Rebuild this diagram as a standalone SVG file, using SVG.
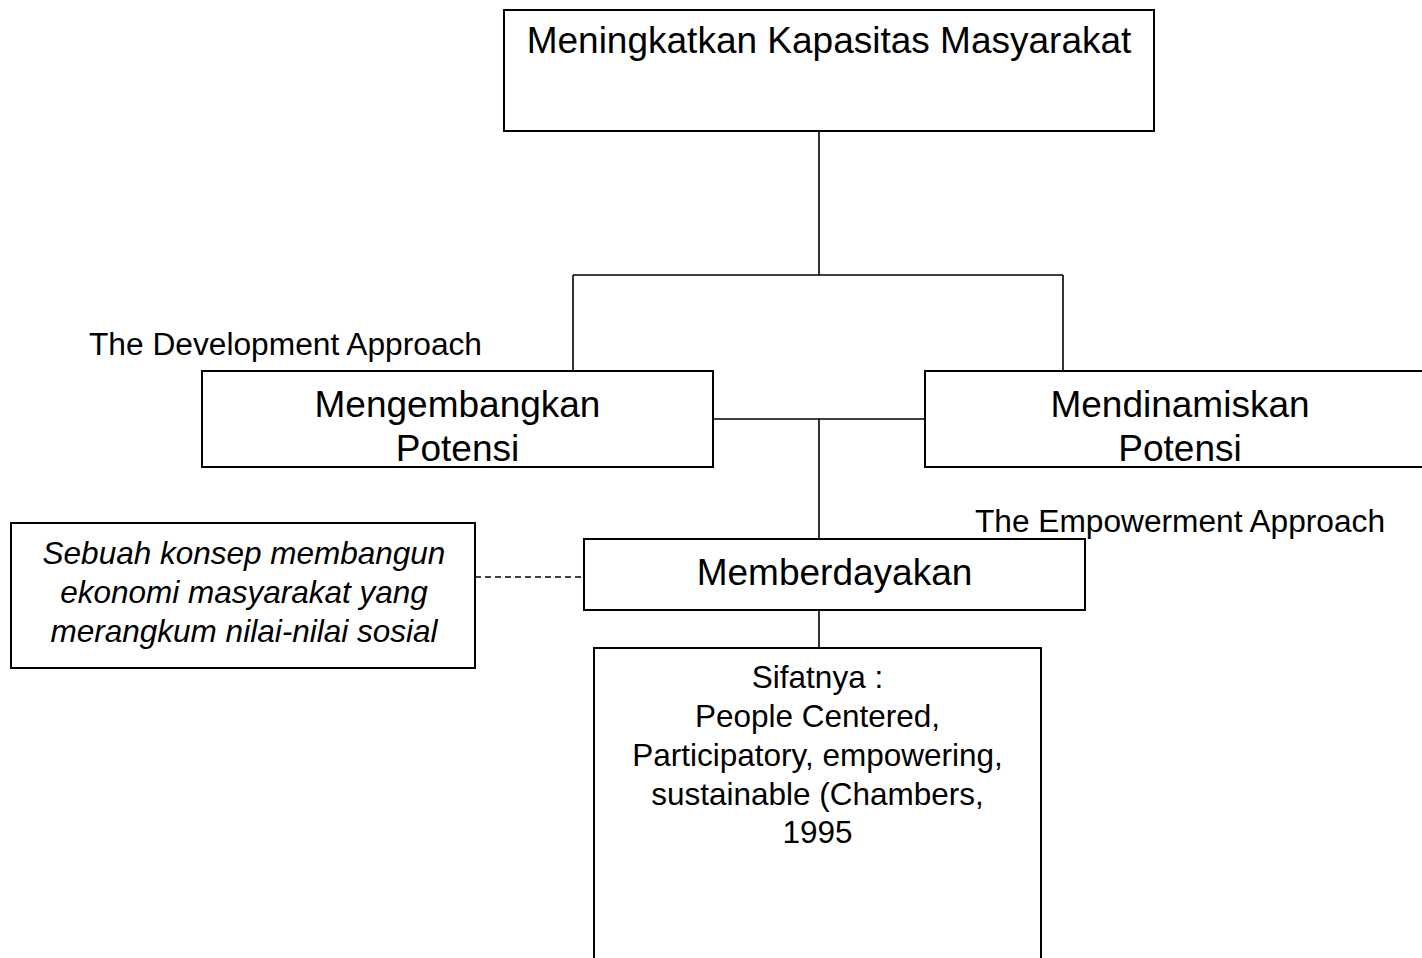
<svg xmlns="http://www.w3.org/2000/svg" width="1422" height="958" viewBox="0 0 1422 958">
<style>
.box{fill:#fff;stroke:#000;stroke-width:2}
.ln{fill:none;stroke:#000;stroke-width:1.6}
.dash{fill:none;stroke:#000;stroke-width:1.4;stroke-dasharray:6 4}
.big{font-family:"Liberation Sans",Arial,sans-serif;font-size:37px;fill:#000;text-anchor:middle}
.sm{font-family:"Liberation Sans",Arial,sans-serif;font-size:31.5px;fill:#000;text-anchor:middle}
.lbl{font-family:"Liberation Sans",Arial,sans-serif;font-size:31px;fill:#000}
.it{font-style:italic}
</style>
<rect width="1422" height="958" fill="#fff"/>
<g id="connectors">
<line class="ln" x1="819" y1="131" x2="819" y2="275"/>
<line class="ln" x1="573" y1="275" x2="1063" y2="275"/>
<line class="ln" x1="573" y1="275" x2="573" y2="371"/>
<line class="ln" x1="1063" y1="275" x2="1063" y2="371"/>
<line class="ln" x1="713" y1="419" x2="925" y2="419"/>
<line class="ln" x1="819" y1="419" x2="819" y2="539"/>
<line class="ln" x1="819" y1="610" x2="819" y2="648"/>
<line class="dash" x1="475" y1="577" x2="584" y2="577"/>
</g>
<g id="node-top">
<rect class="box" x="504" y="10" width="650" height="121"/>
<text class="big" x="829" y="53">Meningkatkan Kapasitas Masyarakat</text>
</g>
<g id="label-dev">
<text class="lbl" x="89" y="355" textLength="393" lengthAdjust="spacingAndGlyphs">The Development Approach</text>
</g>
<g id="node-mengembangkan">
<rect class="box" x="202" y="371" width="511" height="96"/>
<text class="big" x="457.5" y="417">Mengembangkan</text>
<text class="big" x="457.5" y="461">Potensi</text>
</g>
<g id="node-mendinamiskan">
<rect class="box" x="925" y="371" width="510" height="96"/>
<text class="big" x="1180" y="417">Mendinamiskan</text>
<text class="big" x="1180" y="461">Potensi</text>
</g>
<g id="node-memberdayakan">
<rect class="box" x="584" y="539" width="501" height="71"/>
<text class="big" x="834.5" y="585">Memberdayakan</text>
</g>
<g id="label-emp">
<text class="lbl" x="975" y="532" textLength="410" lengthAdjust="spacingAndGlyphs">The Empowerment Approach</text>
</g>
<g id="node-konsep">
<rect class="box" x="11" y="523" width="464" height="145"/>
<text class="sm it" x="244" y="564">Sebuah konsep membangun</text>
<text class="sm it" x="244" y="603">ekonomi masyarakat yang</text>
<text class="sm it" x="244" y="642">merangkum nilai-nilai sosial</text>
</g>
<g id="node-sifat">
<rect class="box" x="594" y="648" width="447" height="330"/>
<text class="sm" x="817.5" y="688">Sifatnya :</text>
<text class="sm" x="817.5" y="727">People Centered,</text>
<text class="sm" x="817.5" y="766">Participatory, empowering,</text>
<text class="sm" x="817.5" y="805">sustainable (Chambers,</text>
<text class="sm" x="817.5" y="843">1995</text>
</g>
</svg>
